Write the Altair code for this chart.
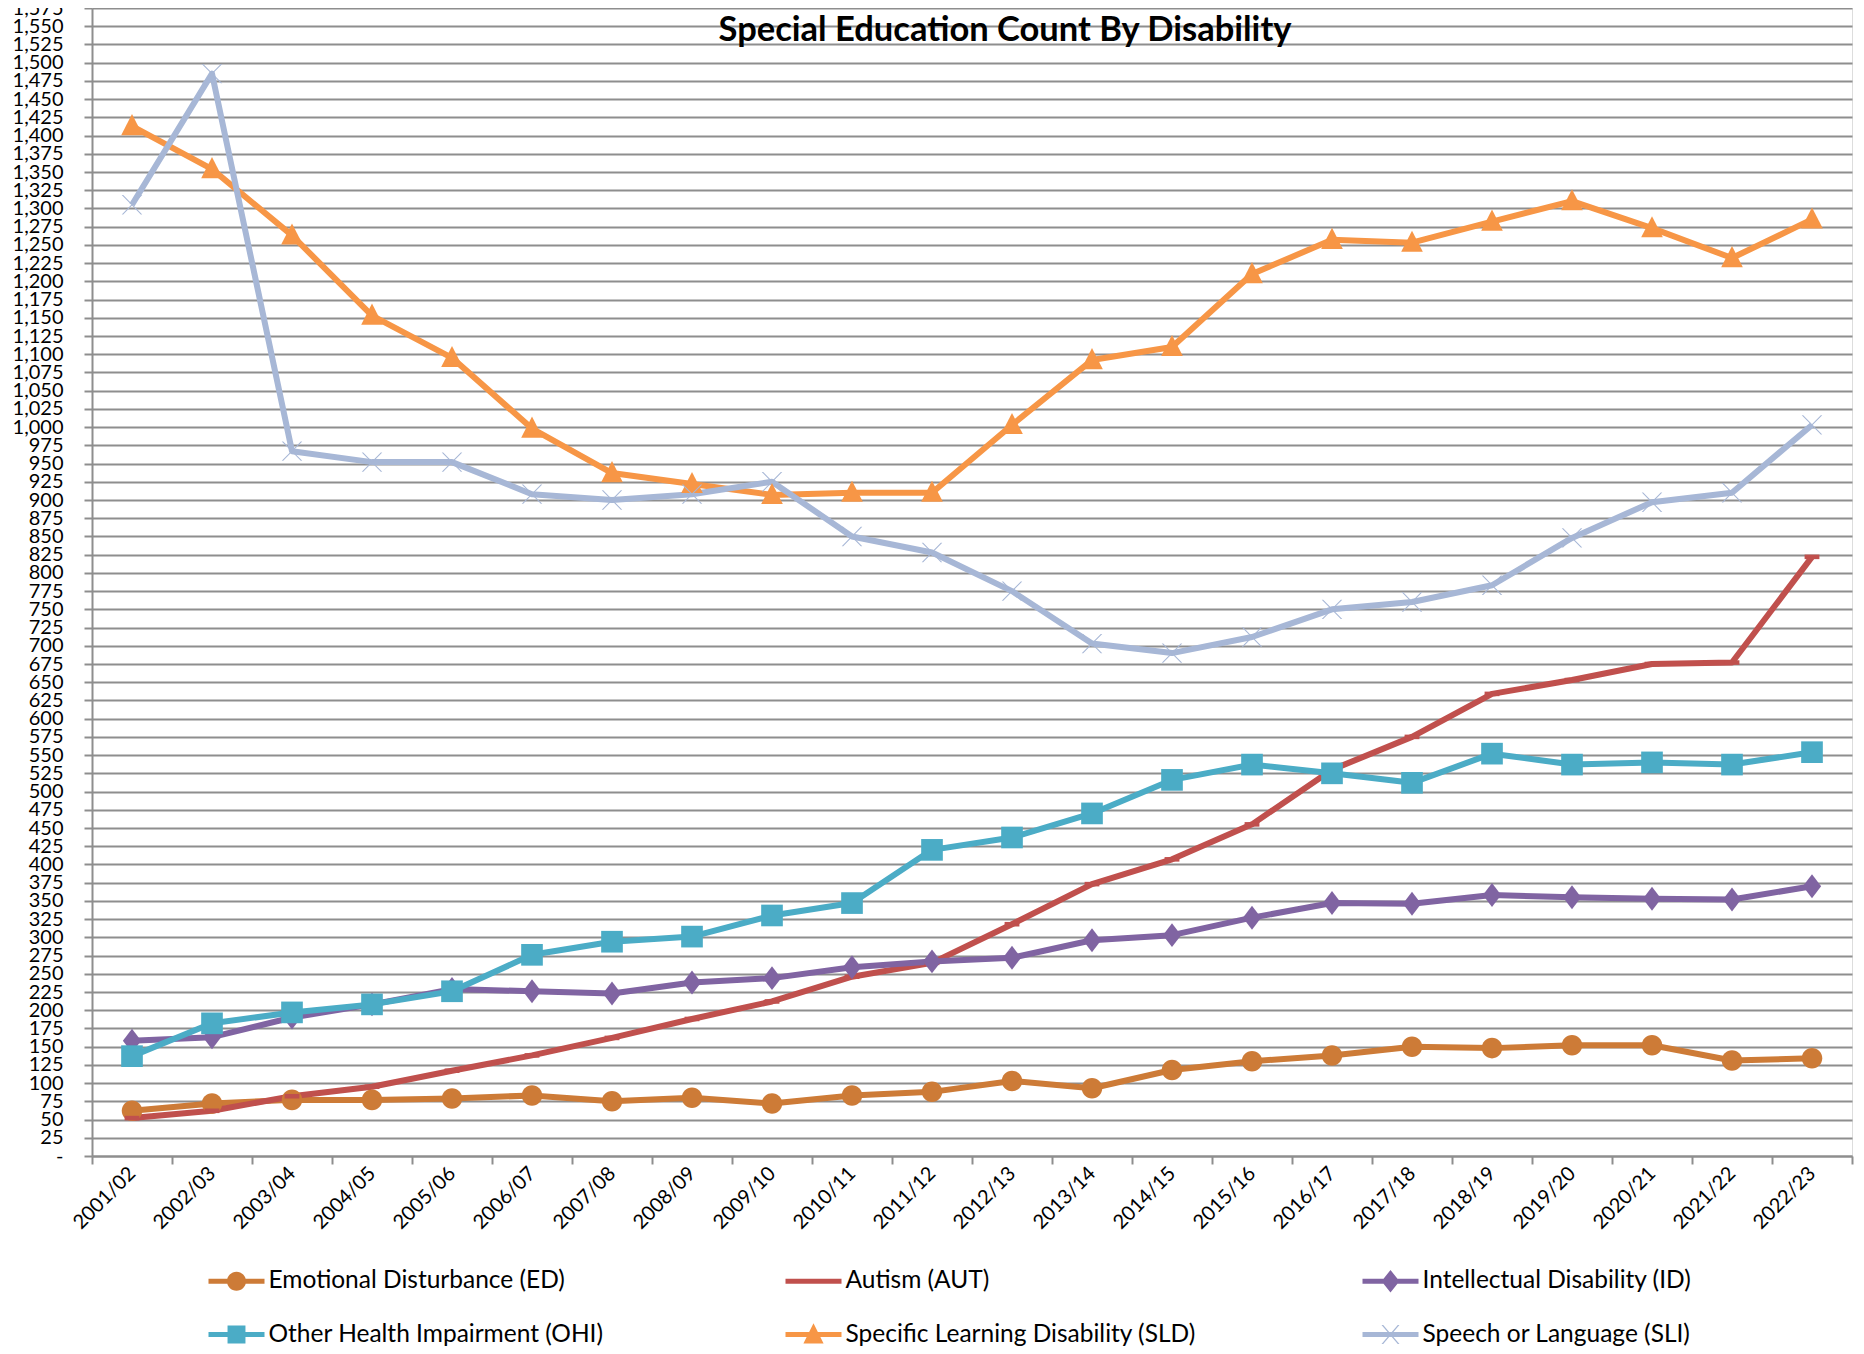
import altair as alt
import pandas as pd

years = ["2001/02", "2002/03", "2003/04", "2004/05", "2005/06", "2006/07", "2007/08",
         "2008/09", "2009/10", "2010/11", "2011/12", "2012/13", "2013/14", "2014/15",
         "2015/16", "2016/17", "2017/18", "2018/19", "2019/20", "2020/21", "2021/22", "2022/23"]

series = ["Emotional Disturbance (ED)", "Autism (AUT)", "Intellectual Disability (ID)",
          "Other Health Impairment (OHI)", "Specific Learning Disability (SLD)", "Speech or Language (SLI)"]

colors = ["#CD7B37", "#C0504D", "#8064A2", "#4BACC6", "#F79646", "#A7B7D6"]

ed = [62, 72, 77, 77, 79, 83, 75, 80, 72, 83, 88, 103, 93, 118, 130, 138, 150, 148, 152, 152, 131, 134]
aut = [52, 62, 82, 95, 117, 138, 162, 188, 212, 246, 265, 318, 373, 407, 455, 530, 575, 634, 653, 675, 677, 822]
idd = [158, 163, 190, 208, 229, 226, 223, 238, 244, 259, 267, 272, 296, 303, 327, 347, 346, 358, 355, 353, 352, 370]
ohi = [137, 182, 197, 208, 226, 276, 294, 301, 330, 347, 420, 437, 470, 516, 537, 525, 512, 552, 537, 540, 537, 554]
sld = [1413, 1354, 1263, 1153, 1095, 998, 937, 922, 907, 910, 910, 1003, 1092, 1110, 1210, 1257, 1253, 1282, 1310, 1273, 1232, 1285]
sli = [1305, 1485, 967, 952, 952, 908, 900, 908, 925, 850, 828, 775, 703, 690, 712, 750, 760, 783, 848, 897, 910, 1003]

y_ticks = list(range(0, 1576, 25))

rows = []
for name, vals in zip(series, [ed, aut, idd, ohi, sld, sli]):
    for yr, v in zip(years, vals):
        rows.append({"year": yr, "series": name, "value": v})
df = pd.DataFrame(rows)

# marker shapes for the plot (unit space, drawn at size 520 -> ~11.4px per unit)
marker_paths = [
    "M-0.9,0A0.9,0.9 0 1,1 0.9,0A0.9,0.9 0 1,1 -0.9,0Z",
    "M-0.65,-0.2H0.65V0.2H-0.65Z",
    "M0,-1.05L0.8,0L0,1.05L-0.8,0Z",
    "M-0.95,-0.95H0.95V0.95H-0.95Z",
    "M0,-1.05L0.95,0.8H-0.95Z",
    "M-0.9,-0.85L-0.77,-0.85L0.9,0.85L0.77,0.85Z M0.77,-0.85L0.9,-0.85L-0.77,0.85L-0.9,0.85Z",
]
# legend symbols: line segment with marker (size 3136 -> 28px per unit)
line_seg = "M-1,-0.09H1V0.09H-1Z "
legend_paths = [
    line_seg + "M-0.34,0A0.34,0.34 0 1,1 0.34,0A0.34,0.34 0 1,1 -0.34,0Z",
    line_seg,
    line_seg + "M0,-0.4L0.32,0L0,0.4L-0.32,0Z",
    line_seg + "M-0.32,-0.32H0.32V0.32H-0.32Z",
    line_seg + "M0,-0.4L0.36,0.32H-0.36Z",
    line_seg + "M-0.32,-0.34L-0.26,-0.34L0.32,0.34L0.26,0.34Z M0.26,-0.34L0.32,-0.34L-0.26,0.34L-0.32,0.34Z",
]

FONT = "Lato"
GRID = "#8E8E8E"

x_enc = alt.X(
    "year:O",
    sort=years,
    bandPosition=0.5,
    scale=alt.Scale(type="band", domain=years, paddingInner=0, paddingOuter=0),
    axis=alt.Axis(
        title=None, labelAngle=-45, labelAlign="right", labelBaseline="middle",
        tickBand="extent", ticks=True, tickSize=8, tickColor=GRID, tickWidth=2,
        domainColor=GRID, domainWidth=2, labelFont=FONT, labelFontSize=20,
        labelColor="black", labelPadding=6, grid=False,
    ),
)
y_enc = alt.Y(
    "value:Q",
    scale=alt.Scale(domain=[0, 1575], nice=False, zero=True),
    axis=alt.Axis(
        title=None, values=y_ticks,
        labelExpr="datum.value == 0 ? '-' : format(datum.value, ',')",
        grid=True, gridColor=GRID, gridWidth=2, domainColor=GRID, domainWidth=2,
        tickColor=GRID, tickWidth=2, tickSize=8, labelPadding=21,
        labelFont=FONT, labelFontSize=20, labelColor="black",
        labelOverlap=False, labelFlush=False,
    ),
)

base = alt.Chart(df)

lines = base.mark_line(strokeWidth=6, strokeJoin="round").encode(
    x=x_enc, y=y_enc,
    color=alt.Color("series:N", scale=alt.Scale(domain=series, range=colors), legend=None),
    detail="series:N",
)

points = base.mark_point(filled=True, opacity=1, size=520).encode(
    x=x_enc, y=y_enc,
    color=alt.Color("series:N", scale=alt.Scale(domain=series, range=colors), legend=None),
    shape=alt.Shape("series:N", scale=alt.Scale(domain=series, range=marker_paths), legend=None),
)

leg = alt.Legend(
    title=None, orient="none", legendX=116.5, legendY=1245, direction="horizontal",
    columns=3, symbolSize=3136, symbolStrokeWidth=0, symbolOpacity=1,
    labelFont=FONT, labelFontSize=24.5, labelColor="black", labelOffset=4,
    columnPadding=166, rowPadding=13.5, gridAlign="all", labelLimit=600,
)

legend_layer = base.transform_filter("false").mark_point(filled=True, opacity=1, size=3136).encode(
    x=x_enc, y=y_enc,
    color=alt.Color("series:N", scale=alt.Scale(domain=series, range=colors), legend=leg),
    shape=alt.Shape("series:N", scale=alt.Scale(domain=series, range=legend_paths), legend=leg),
)

chart = alt.layer(lines, points, legend_layer).resolve_scale(
    shape="independent", color="independent"
).properties(
    width=1760,
    height=1148,
    padding={"left": 84, "top": 0, "right": 4, "bottom": 190},
    autosize=alt.AutoSizeParams(type="none"),
    title=alt.TitleParams(
        "Special Education Count By Disability", font=FONT, fontSize=34.5,
        fontWeight="bold", color="black", anchor="middle", frame="group",
        offset=0, baseline="middle", dx=33, dy=67.5,
    ),
).configure_view(stroke="transparent").configure(background="white")

chart.save("out.html", embed_options={"renderer": "svg", "actions": False})
